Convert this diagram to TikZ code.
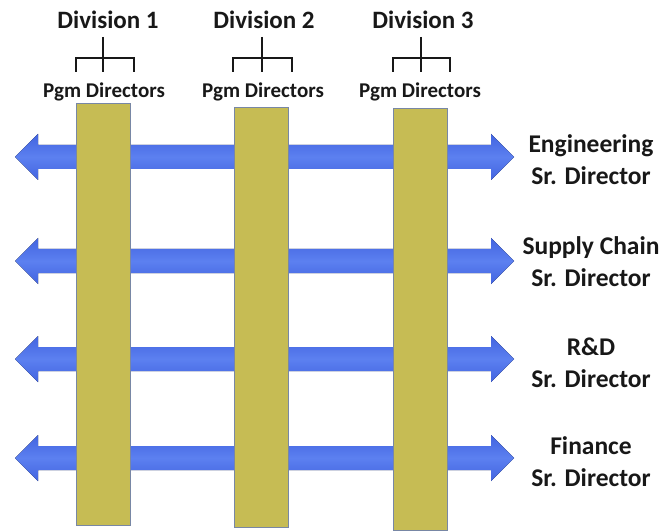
\documentclass[tikz,border=0pt]{standalone}
\usepackage{fontspec}
\setmainfont{Carlito}
\usetikzlibrary{calc}
\definecolor{barfill}{RGB}{198,188,84}
\definecolor{barline}{RGB}{120,135,165}
\definecolor{arrowblue}{RGB}{66,100,224}
\definecolor{arrowlight}{RGB}{92,128,240}
\definecolor{txt}{RGB}{24,24,24}
\begin{document}
\begin{tikzpicture}[x=1pt,y=-1pt,
  bar/.style={draw=barline, line width=0.8pt, fill=barfill, minimum width=54pt, inner sep=0pt},
  divlabel/.style={font=\bfseries\fontsize{25}{30}\selectfont, text=txt, anchor=base, inner sep=0pt},
  pgmlabel/.style={font=\bfseries\fontsize{21}{25}\selectfont, text=txt, anchor=base, inner sep=0pt},
  rolelabel/.style={font=\bfseries\fontsize{25.5}{32}\selectfont, text=txt, align=center, inner sep=0pt},
  bracket/.style={line width=2.4pt, draw=txt},
  blockarrow/.style={top color=arrowblue, bottom color=arrowblue, middle color=arrowlight}]
\useasboundingbox (0,0) rectangle (662,532);
% horizontal double arrows (behind the bars)
\foreach \i/\c in {1/157,2/261,3/359,4/458}{
  \coordinate (aL\i) at (15,\c);
  \coordinate (aR\i) at (514,\c);
  \fill[blockarrow] (aL\i) -- ++(23,-23) -- ++(0,11) -- ($(aR\i)+(-23,-12)$) -- ++(0,-11)
     -- (aR\i) -- ++(-23,23) -- ++(0,-11) -- ($(aL\i)+(23,12)$) -- ++(0,11) -- cycle;
}
% vertical bars
\node[bar, minimum height=422pt] (b1) at (103.5,314) {};
\node[bar, minimum height=420pt] (b2) at (261.5,317) {};
\node[bar, minimum height=422pt] (b3) at (420.5,319) {};
% division headings
\node[divlabel] (d1) at (108,29) {Division 1};
\node[divlabel] (d2) at (264,29) {Division 2};
\node[divlabel] (d3) at (423,29) {Division 3};
% org brackets
\foreach \i/\l/\m/\r in {1/76/103/134,2/233/262/292,3/393/421/450}{
  \coordinate (s\i) at (\m,37);
  \coordinate (t\i) at (\m,72);
  \coordinate (k\i) at (\l,72);
  \coordinate (q\i) at (\r,72);
  \draw[bracket] (s\i) -- (t\i);
  \draw[bracket] (k\i) -- ++(0,-14) -| (q\i);
}
% program directors
\node[pgmlabel] (p1) at (104,98) {Pgm Directors};
\node[pgmlabel] (p2) at (263,98) {Pgm Directors};
\node[pgmlabel] (p3) at (420,98) {Pgm Directors};
% functional labels
\node[rolelabel] (l1) at (591,160) {Engineering\\Sr. Director};
\node[rolelabel] (l2) at (591,262) {Supply Chain\\Sr. Director};
\node[rolelabel] (l3) at (591,363) {R\&D\\Sr. Director};
\node[rolelabel] (l4) at (591,462) {Finance\\Sr. Director};
\end{tikzpicture}
\end{document}
